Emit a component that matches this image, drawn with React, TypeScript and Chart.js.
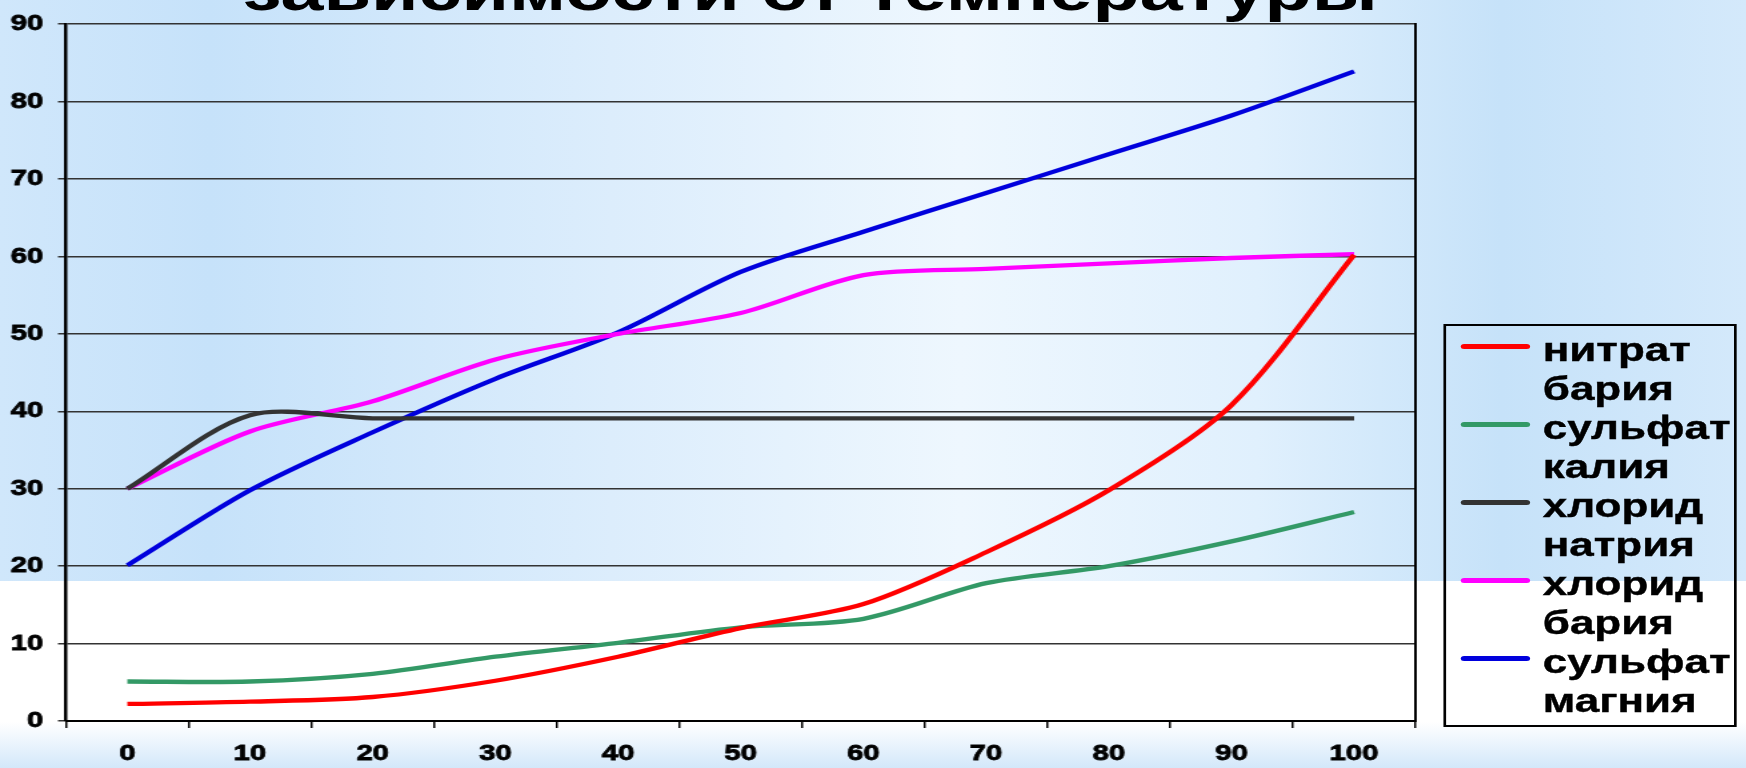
import { useEffect, useRef } from "react";
import { Chart, registerables } from "chart.js";

Chart.register(...registerables);

// ---- data ----
const temperatures = ["0", "10", "20", "30", "40", "50", "60", "70", "80", "90", "100"];
const bariumNitrate = [2.2, 2.5, 3.1, 5.2, 8.3, 12.0, 15.1, 21.8, 29.8, 40.8, 60.2];
const potassiumSulfate = [5.1, 5.1, 6.1, 8.3, 10.1, 12.1, 13.2, 17.8, 20.0, 23.2, 27.0];
const sodiumChloride = [30, 39.5, 39.1, 39.1, 39.1, 39.1, 39.1, 39.1, 39.1, 39.1, 39.1];
const bariumChloride = [30, 37.4, 41.3, 46.7, 50.0, 52.7, 57.6, 58.4, 59.1, 59.8, 60.3];
const magnesiumSulfate = [20.1, 29.8, 37.3, 44.2, 50.2, 58.0, 63.2, 68.2, 73.2, 78.2, 83.9];

const seriesValues = [bariumNitrate, potassiumSulfate, sodiumChloride, bariumChloride, magnesiumSulfate];
const seriesNames = [
  ["нитрат", "бария"],
  ["сульфат", "калия"],
  ["хлорид", "натрия"],
  ["хлорид", "бария"],
  ["сульфат", "магния"],
];
const seriesColors = ["#ff0000", "#339966", "#333333", "#ff00ff", "#0000dd"];
const yMin = 0;
const yMax = 90;
const yStep = 10;
const titleText = "зависимости от температуры";

const FONT = "'Liberation Sans', Arial, sans-serif";
const STRETCH = 1746 / 1310;

export default function App() {
  const ref = useRef<HTMLCanvasElement>(null);

  useEffect(() => {
    document.body.style.margin = "0";
    const chart = new Chart(ref.current!, {
      type: "line",
      data: {
        labels: temperatures,
        datasets: seriesValues.map((vals, i) => ({
          label: seriesNames[i].join(" "),
          data: vals,
          borderColor: seriesColors[i],
          backgroundColor: seriesColors[i],
          borderWidth: 4.3,
          pointRadius: 0,
          tension: 0.3,
          fill: false,
        })),
      },
      options: {
        responsive: false,
        maintainAspectRatio: false,
        animation: false,
        layout: { padding: { top: 19, right: 13, bottom: 0, left: 0 } },
        plugins: {
          legend: { display: false },
          tooltip: { enabled: false },
          title: { display: false },
        },
        scales: {
          x: {
            type: "category",
            offset: true,
            grid: {
              offset: true,
              drawOnChartArea: false,
              drawTicks: true,
              tickLength: 7,
              color: "#000",
              lineWidth: 1.5,
            },
            border: { color: "#000", width: 2 },
            ticks: {
              color: "#000",
              font: { family: FONT, weight: "bold", size: 22 },
              textStrokeColor: "#000",
              textStrokeWidth: 0.8,
              padding: 13,
              maxRotation: 0,
              autoSkip: false,
            },
            afterFit: (s: any) => {
              s.height = 47;
            },
          },
          y: {
            min: yMin,
            max: yMax,
            ticks: {
              stepSize: yStep,
              color: "#000",
              font: { family: FONT, weight: "bold", size: 22 },
              textStrokeColor: "#000",
              textStrokeWidth: 0.8,
              padding: 11,
            },
            grid: { color: "#333", lineWidth: 1.5, tickLength: 6, drawTicks: true },
            border: { color: "#000", width: 2.5 },
            afterFit: (s: any) => {
              s.width = 49.5;
            },
          },
          yRight: {
            position: "right",
            display: true,
            grid: { drawOnChartArea: false, drawTicks: false },
            ticks: { display: false },
            border: { color: "#000", width: 2 },
            afterFit: (s: any) => {
              s.width = 0;
            },
          },
        },
      } as any,
    });
    return () => chart.destroy();
  }, []);

  return (
    <div
      style={{
        position: "fixed",
        left: 0,
        top: 0,
        width: 1746,
        height: 768,
        overflow: "hidden",
        background: "#ffffff",
      }}
    >
      <div
        style={{
          position: "absolute",
          left: 0,
          top: 0,
          width: 1746,
          height: 581,
          background:
            "linear-gradient(90deg, #d0e7fb 0%, #c6e2fa 12%, #dcedfc 35%, #eef7fe 55%, #e0f0fd 72%, #c6e2f9 86%, #d4e9fb 100%)",
        }}
      />
      <div
        style={{
          position: "absolute",
          left: 0,
          top: 722,
          width: 1746,
          height: 46,
          background: "linear-gradient(180deg, #ffffff 0%, #d3e8fa 100%)",
        }}
      />
      <div
        style={{
          position: "absolute",
          left: 0,
          top: 0,
          width: 1310,
          height: 768,
          transform: `scaleX(${STRETCH})`,
          transformOrigin: "0 0",
        }}
      >
        <canvas
          ref={ref}
          width={1075}
          height={768}
          style={{ position: "absolute", left: 0, top: 0, width: 1075, height: 768, display: "block" }}
        />
        <div
          style={{
            position: "absolute",
            left: 0,
            top: -39,
            width: 1216,
            textAlign: "center",
            fontFamily: FONT,
            fontWeight: "bold",
            fontSize: 58,
            lineHeight: "58px",
            whiteSpace: "nowrap",
            color: "#000",
          }}
        >
          {titleText}
        </div>
        <div
          style={{
            position: "absolute",
            left: 1082.5,
            top: 324,
            width: 220.5,
            height: 403,
            border: "2px solid #000",
            boxSizing: "border-box",
            paddingTop: 4,
          }}
        >
          {seriesNames.map((name, i) => (
            <div key={i} style={{ position: "relative", height: 78 }}>
              <div
                style={{
                  position: "absolute",
                  left: 11.5,
                  top: 13.5,
                  width: 52,
                  height: 5,
                  borderRadius: 2.5,
                  background: seriesColors[i],
                }}
              />
              <div
                style={{
                  position: "absolute",
                  left: 73,
                  top: 0,
                  fontFamily: FONT,
                  fontWeight: "bold",
                  fontSize: 33,
                  lineHeight: "39px",
                  color: "#000",
                  whiteSpace: "nowrap",
                  WebkitTextStroke: "0.4px #000",
                }}
              >
                {name[0]}
                <br />
                {name[1]}
              </div>
            </div>
          ))}
        </div>
      </div>
    </div>
  );
}
